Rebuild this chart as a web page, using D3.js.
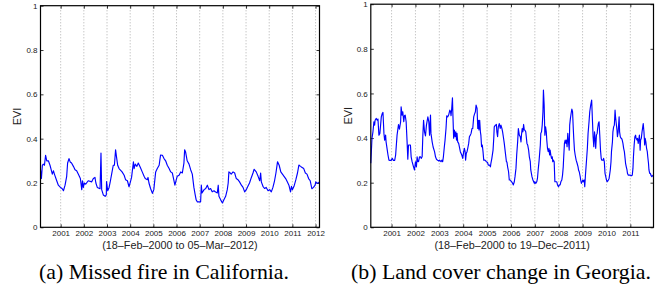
<!DOCTYPE html>
<html><head><meta charset="utf-8">
<script src="https://cdn.jsdelivr.net/npm/d3@7"></script>
<style>body{margin:0;background:#fff}svg{display:block}</style>
</head><body><svg id="c" width="663" height="290"></svg>
<script>
const yTicks = [0, 0.2, 0.4, 0.6, 0.8, 1];
const californiaYearTicks = [2001,2002,2003,2004,2005,2006,2007,2008,2009,2010,2011,2012];
const georgiaYearTicks = [2001,2002,2003,2004,2005,2006,2007,2008,2009,2010,2011];
const californiaDomain = [2000.13, 2012.17];
const georgiaDomain = [2000.13, 2011.97];
const rangeLabels = ["(18\u2013Feb\u20132000 to 05\u2013Mar\u20132012)", "(18\u2013Feb\u20132000 to 19\u2013Dec\u20132011)"];
const captions = ["(a) Missed fire in California.", "(b) Land cover change in Georgia."];
const yLabel = "EVI";

const californiaYears = [2000.13,2000.17,2000.21,2000.25,2000.30,2000.35,2000.40,2000.47,2000.54,2000.59,
2000.64,2000.69,2000.73,2000.83,2000.90,2000.99,2001.06,2001.12,2001.19,2001.26,
2001.30,2001.36,2001.41,2001.47,2001.55,2001.62,2001.69,2001.76,2001.85,2001.91,
2001.94,2001.98,2002.02,2002.08,2002.19,2002.34,2002.41,2002.48,2002.52,2002.58,
2002.70,2002.74,2002.77,2002.84,2002.92,2002.97,2002.98,2003.03,2003.09,2003.13,
2003.20,2003.27,2003.32,2003.37,2003.42,2003.46,2003.52,2003.61,2003.65,2003.74,
2003.80,2003.88,2003.95,2004.01,2004.06,2004.14,2004.17,2004.22,2004.29,2004.35,
2004.44,2004.52,2004.60,2004.65,2004.74,2004.77,2004.81,2004.88,2004.96,2005.02,
2005.10,2005.17,2005.25,2005.31,2005.39,2005.46,2005.53,2005.60,2005.68,2005.75,
2005.82,2005.88,2005.93,2005.99,2006.03,2006.11,2006.18,2006.25,2006.32,2006.35,
2006.39,2006.46,2006.54,2006.61,2006.68,2006.75,2006.80,2006.85,2006.90,2007.04,
2007.07,2007.10,2007.19,2007.26,2007.33,2007.40,2007.47,2007.54,2007.62,2007.67,
2007.76,2007.80,2007.83,2007.90,2007.98,2008.05,2008.12,2008.19,2008.23,2008.26,
2008.32,2008.36,2008.44,2008.51,2008.55,2008.58,2008.65,2008.72,2008.80,2008.87,
2008.94,2009.01,2009.08,2009.15,2009.23,2009.30,2009.35,2009.44,2009.52,2009.59,
2009.63,2009.66,2009.73,2009.80,2009.87,2009.95,2010.02,2010.09,2010.16,2010.23,
2010.29,2010.36,2010.43,2010.50,2010.57,2010.64,2010.71,2010.78,2010.85,2010.92,
2010.96,2011.00,2011.07,2011.15,2011.22,2011.28,2011.35,2011.42,2011.49,2011.56,
2011.63,2011.70,2011.77,2011.84,2011.91,2011.98,2012.01,2012.05,2012.12,2012.17];
const californiaEVI = [0.26,0.22,0.28,0.285,0.28,0.325,0.30,0.30,0.28,0.26,
0.24,0.255,0.24,0.21,0.19,0.18,0.175,0.165,0.19,0.23,
0.29,0.31,0.295,0.29,0.275,0.26,0.255,0.24,0.22,0.17,
0.21,0.18,0.20,0.195,0.21,0.205,0.22,0.225,0.20,0.18,
0.174,0.335,0.17,0.146,0.14,0.146,0.206,0.165,0.18,0.20,
0.24,0.28,0.28,0.35,0.31,0.28,0.265,0.255,0.25,0.235,
0.215,0.21,0.183,0.205,0.225,0.296,0.265,0.285,0.275,0.29,
0.27,0.25,0.23,0.22,0.215,0.225,0.20,0.175,0.153,0.17,
0.25,0.265,0.28,0.326,0.325,0.31,0.30,0.28,0.265,0.25,
0.245,0.215,0.19,0.215,0.23,0.235,0.25,0.245,0.29,0.35,
0.34,0.30,0.285,0.26,0.24,0.18,0.15,0.123,0.115,0.115,
0.19,0.155,0.17,0.175,0.19,0.17,0.175,0.16,0.165,0.16,
0.155,0.19,0.14,0.125,0.11,0.125,0.14,0.17,0.20,0.25,
0.245,0.24,0.25,0.245,0.23,0.22,0.215,0.205,0.19,0.18,
0.16,0.17,0.185,0.20,0.225,0.245,0.262,0.25,0.23,0.21,
0.245,0.205,0.185,0.175,0.18,0.165,0.17,0.16,0.18,0.21,
0.245,0.296,0.28,0.25,0.24,0.23,0.22,0.205,0.19,0.16,
0.185,0.17,0.185,0.215,0.245,0.281,0.275,0.27,0.265,0.245,
0.24,0.22,0.21,0.174,0.18,0.19,0.205,0.20,0.20,0.205];

const georgiaYears = [2000.13,2000.18,2000.22,2000.26,2000.29,2000.31,2000.36,2000.40,2000.43,2000.47,
2000.51,2000.54,2000.57,2000.61,2000.64,2000.68,2000.71,2000.75,2000.77,2000.82,
2000.85,2000.89,2000.93,2000.98,2001.03,2001.07,2001.13,2001.17,2001.23,2001.29,
2001.33,2001.38,2001.40,2001.44,2001.47,2001.51,2001.54,2001.57,2001.61,2001.65,
2001.68,2001.71,2001.75,2001.79,2001.82,2001.86,2001.92,2001.96,2002.00,2002.04,
2002.07,2002.10,2002.13,2002.17,2002.21,2002.24,2002.28,2002.31,2002.34,2002.38,
2002.42,2002.46,2002.52,2002.56,2002.59,2002.63,2002.65,2002.70,2002.74,2002.80,
2002.84,2002.88,2002.93,2002.98,2003.01,2003.07,2003.11,2003.14,2003.17,2003.21,
2003.24,2003.28,2003.31,2003.35,2003.39,2003.44,2003.47,2003.49,2003.52,2003.55,
2003.57,2003.60,2003.63,2003.66,2003.69,2003.72,2003.74,2003.77,2003.81,2003.84,
2003.88,2003.94,2003.98,2004.02,2004.05,2004.08,2004.10,2004.13,2004.16,2004.19,
2004.23,2004.26,2004.30,2004.33,2004.37,2004.40,2004.44,2004.47,2004.51,2004.54,
2004.58,2004.61,2004.64,2004.66,2004.69,2004.72,2004.74,2004.77,2004.80,2004.83,
2004.86,2004.91,2004.97,2005.02,2005.05,2005.10,2005.14,2005.16,2005.20,2005.25,
2005.28,2005.30,2005.35,2005.39,2005.41,2005.44,2005.47,2005.51,2005.55,2005.58,
2005.62,2005.65,2005.69,2005.72,2005.76,2005.81,2005.83,2005.86,2005.90,2005.93,
2005.97,2006.03,2006.07,2006.10,2006.14,2006.17,2006.21,2006.24,2006.28,2006.31,
2006.35,2006.39,2006.42,2006.44,2006.47,2006.50,2006.53,2006.56,2006.58,2006.62,
2006.67,2006.70,2006.74,2006.77,2006.81,2006.83,2006.88,2006.92,2006.98,2007.00,
2007.04,2007.08,2007.11,2007.14,2007.18,2007.23,2007.25,2007.28,2007.31,2007.34,
2007.36,2007.39,2007.42,2007.45,2007.48,2007.50,2007.53,2007.56,2007.59,2007.62,
2007.64,2007.67,2007.70,2007.73,2007.75,2007.78,2007.81,2007.84,2007.88,2007.92,
2007.95,2007.99,2008.03,2008.06,2008.09,2008.13,2008.16,2008.19,2008.21,2008.24,
2008.27,2008.30,2008.33,2008.35,2008.38,2008.41,2008.44,2008.46,2008.49,2008.52,
2008.55,2008.58,2008.61,2008.63,2008.66,2008.69,2008.73,2008.77,2008.81,2008.83,
2008.86,2008.90,2008.92,2008.95,2008.98,2009.01,2009.04,2009.07,2009.09,2009.12,
2009.16,2009.20,2009.23,2009.27,2009.30,2009.34,2009.38,2009.41,2009.44,2009.47,
2009.50,2009.52,2009.55,2009.58,2009.61,2009.63,2009.66,2009.69,2009.72,2009.75,
2009.78,2009.80,2009.83,2009.86,2009.88,2009.91,2009.94,2009.97,2010.00,2010.03,
2010.05,2010.08,2010.11,2010.13,2010.16,2010.19,2010.21,2010.25,2010.27,2010.30,
2010.33,2010.36,2010.38,2010.41,2010.44,2010.46,2010.49,2010.53,2010.55,2010.58,
2010.61,2010.63,2010.66,2010.69,2010.72,2010.75,2010.78,2010.80,2010.83,2010.86,
2010.88,2010.91,2010.95,2010.99,2011.03,2011.05,2011.08,2011.11,2011.13,2011.16,
2011.19,2011.22,2011.24,2011.28,2011.30,2011.33,2011.35,2011.38,2011.41,2011.43,
2011.46,2011.49,2011.52,2011.54,2011.57,2011.60,2011.62,2011.65,2011.68,2011.71,
2011.73,2011.76,2011.78,2011.81,2011.84,2011.86,2011.90,2011.97];
const georgiaEVI = [0.287,0.40,0.428,0.473,0.458,0.48,0.488,0.48,0.485,0.413,
0.421,0.458,0.495,0.51,0.515,0.421,0.391,0.413,0.383,0.346,
0.324,0.301,0.30,0.30,0.309,0.30,0.30,0.324,0.413,0.46,
0.44,0.473,0.54,0.503,0.518,0.473,0.50,0.503,0.473,0.383,
0.305,0.369,0.369,0.369,0.316,0.294,0.271,0.257,0.294,0.271,
0.316,0.294,0.294,0.316,0.316,0.309,0.316,0.413,0.48,0.428,
0.41,0.458,0.495,0.473,0.413,0.503,0.421,0.383,0.36,0.339,
0.316,0.305,0.30,0.297,0.301,0.294,0.301,0.294,0.316,0.361,
0.391,0.443,0.50,0.495,0.503,0.525,0.518,0.50,0.533,0.58,
0.50,0.399,0.436,0.406,0.428,0.391,0.421,0.383,0.376,0.361,
0.339,0.324,0.309,0.339,0.354,0.339,0.301,0.332,0.339,0.354,
0.376,0.406,0.413,0.421,0.443,0.443,0.495,0.506,0.518,0.548,
0.533,0.443,0.48,0.436,0.48,0.428,0.413,0.361,0.369,0.339,
0.301,0.301,0.294,0.291,0.279,0.279,0.271,0.287,0.309,0.346,
0.399,0.45,0.458,0.461,0.428,0.406,0.45,0.465,0.443,0.458,
0.443,0.428,0.399,0.376,0.339,0.294,0.294,0.271,0.249,0.212,
0.212,0.204,0.197,0.19,0.204,0.227,0.264,0.324,0.383,0.443,
0.413,0.406,0.383,0.413,0.443,0.428,0.461,0.436,0.436,0.428,
0.376,0.369,0.346,0.316,0.294,0.257,0.227,0.212,0.197,0.204,
0.197,0.204,0.219,0.257,0.301,0.369,0.421,0.428,0.458,0.518,
0.615,0.548,0.413,0.45,0.428,0.391,0.354,0.339,0.354,0.324,
0.346,0.324,0.309,0.316,0.294,0.301,0.294,0.204,0.204,0.204,
0.19,0.182,0.19,0.19,0.204,0.212,0.234,0.271,0.316,0.376,
0.391,0.376,0.391,0.361,0.421,0.383,0.346,0.458,0.488,0.51,
0.53,0.518,0.443,0.399,0.346,0.324,0.301,0.287,0.271,0.257,
0.249,0.227,0.212,0.197,0.204,0.212,0.204,0.212,0.182,0.234,
0.294,0.354,0.421,0.473,0.518,0.548,0.57,0.488,0.406,0.361,
0.428,0.406,0.354,0.413,0.421,0.443,0.465,0.473,0.413,0.346,
0.309,0.301,0.301,0.301,0.309,0.294,0.242,0.227,0.212,0.204,
0.207,0.212,0.219,0.234,0.257,0.294,0.339,0.383,0.428,0.45,
0.458,0.525,0.495,0.465,0.436,0.406,0.428,0.495,0.428,0.406,
0.399,0.399,0.391,0.376,0.354,0.339,0.309,0.287,0.271,0.257,
0.242,0.234,0.234,0.234,0.231,0.231,0.234,0.264,0.316,0.369,
0.406,0.413,0.399,0.391,0.399,0.376,0.391,0.413,0.346,0.391,
0.399,0.428,0.45,0.465,0.428,0.369,0.399,0.383,0.354,0.339,
0.316,0.287,0.257,0.242,0.242,0.234,0.227,0.235];

const svg = d3.select("#c");
const panels = [
  {years: californiaYears, evi: californiaEVI, domain: californiaDomain, ticks: californiaYearTicks,
   left: 40.5, right: 319.5, top: 5.7, bottom: 227.3, labelX: 17.5, caption: captions[0], range: rangeLabels[0], capX: 164},
  {years: georgiaYears, evi: georgiaEVI, domain: georgiaDomain, ticks: georgiaYearTicks,
   left: 370.8, right: 653.5, top: 4.2, bottom: 227.3, labelX: 348, caption: captions[1], range: rangeLabels[1], capX: 501}
];
const sans = "'Liberation Sans', Arial, Helvetica, sans-serif";

panels.forEach(p => {
  const x = d3.scaleLinear().domain(p.domain).range([p.left, p.right]);
  const y = d3.scaleLinear().domain([0, 1]).range([p.bottom, p.top]);
  const g = svg.append("g");

  // dotted year grid
  g.selectAll("line.grid").data(p.ticks).join("line").attr("class","grid")
    .attr("x1", d => x(d)).attr("x2", d => x(d))
    .attr("y1", y(0)).attr("y2", y(1))
    .attr("stroke", "#9a9a9a").attr("stroke-width", 0.8).attr("stroke-dasharray", "1,2");

  const styleAxis = a => {
    a.select(".domain").remove();
    a.selectAll(".tick line").attr("stroke", "#000").attr("stroke-width", 0.8);
    a.selectAll("text").attr("font-family", sans).attr("font-size", 8).attr("fill", "#222");
  };
  g.append("g").attr("transform", `translate(${p.left},0)`)
    .call(d3.axisLeft(y).tickValues(yTicks).tickSize(-3).tickPadding(3).tickFormat(d => String(d)))
    .call(styleAxis);
  g.append("g").attr("transform", `translate(${p.right},0)`)
    .call(d3.axisRight(y).tickValues(yTicks).tickSize(-3).tickFormat(""))
    .call(styleAxis);
  g.append("g").attr("transform", `translate(0,${p.bottom})`)
    .call(d3.axisBottom(x).tickValues(p.ticks).tickSize(-3).tickPadding(3).tickFormat(d3.format("d")))
    .call(styleAxis);
  g.append("g").attr("transform", `translate(0,${p.top})`)
    .call(d3.axisTop(x).tickValues(p.ticks).tickSize(-3).tickFormat(""))
    .call(styleAxis);

  // series line
  const data = d3.zip(p.years, p.evi);
  g.append("path").datum(data)
    .attr("d", d3.line().x(d => x(d[0])).y(d => y(d[1])))
    .attr("fill", "none").attr("stroke", "#0000ff").attr("stroke-width", 1.15).attr("stroke-linejoin", "round");

  // frame
  g.append("rect").attr("x", p.left).attr("y", p.top)
    .attr("width", p.right - p.left).attr("height", p.bottom - p.top)
    .attr("fill", "none").attr("stroke", "#000").attr("stroke-width", 1.2);

  // y label
  g.append("text").attr("transform", `translate(${p.labelX},${(p.top + p.bottom) / 2}) rotate(-90)`)
    .attr("text-anchor", "middle").attr("dy", "0.35em")
    .attr("font-family", sans).attr("font-size", 11).attr("fill", "#222").text(yLabel);

  // date range label
  g.append("text").attr("x", (p.left + p.right) / 2).attr("y", 249)
    .attr("text-anchor", "middle").attr("font-family", sans).attr("font-size", 10.8).attr("fill", "#222")
    .text(p.range);

  // caption
  g.append("text").attr("x", p.capX).attr("y", 279)
    .attr("text-anchor", "middle").attr("font-family", "'Liberation Serif', 'Times New Roman', serif")
    .attr("font-size", 21.8).attr("fill", "#000").text(p.caption);
});
</script></body></html>
